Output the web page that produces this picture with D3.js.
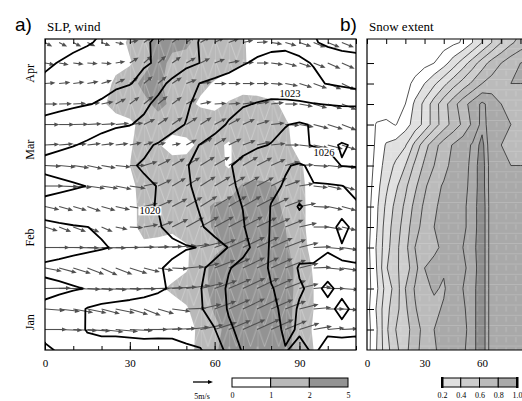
<!DOCTYPE html>
<html>
<head>
<meta charset="utf-8">
<script src="https://cdn.jsdelivr.net/npm/d3@7"></script>
<style>
  body { margin: 0; background: #fff; }
  text { font-family: "Liberation Serif", "DejaVu Serif", serif; fill: #000; }
</style>
</head>
<body>
<svg id="chart" width="522" height="401"></svg>
<script>
// grid steps: longitude (deg) and days
const lonStep = 5, dayStep = 7.25;

const monthLabels = ["Jan", "Feb", "Mar", "Apr"];
const monthDays = [10, 40, 71, 98];
const xTickVals = [0, 30, 60, 90];

// SLP contours (hPa), rows from bottom (day 0) to top
const slpLevels = [1011, 1014, 1017, 1020, 1023, 1026, 1029];
const slp = [
  [1016.5,1017.3,1018.4,1019.2,1019.6,1019.7,1019.7,1019.7,1019.6,1019.5,1019.6,1019.8,1022.3,1023.4,1026.4,1027.6,1028.4,1028.95,1029.2,1028.9,1029.2,1029.3,1029.2],
  [1018.0,1018.6,1019.2,1020.15,1020.2,1020.15,1020.2,1020.25,1020.3,1020.4,1020.9,1021.8,1022.9,1025.5,1026.9,1027.8,1028.5,1029.2,1028.9,1028.7,1028.9,1028.8,1028.9],
  [1017.6,1018.2,1018.8,1020.2,1020.8,1021.0,1021.1,1021.2,1021.4,1021.7,1022.2,1022.8,1024.1,1026.3,1027.2,1027.9,1028.6,1029.4,1028.9,1028.6,1028.8,1029.2,1028.8],
  [1016.3,1016.5,1016.8,1017.1,1017.6,1018.1,1018.6,1019.1,1019.6,1020.3,1021.6,1022.9,1024.4,1026.5,1027.3,1028.0,1028.9,1029.5,1029.1,1028.8,1029.15,1028.8,1028.7],
  [1017.6,1017.9,1018.2,1018.5,1018.8,1019.1,1019.4,1019.6,1019.8,1020.4,1021.6,1022.6,1023.8,1025.8,1027.0,1028.0,1029.3,1029.6,1028.9,1028.9,1028.7,1028.97,1028.9],
  [1015.5,1015.8,1016.2,1016.5,1016.8,1017.2,1018.2,1018.8,1019.2,1019.5,1019.8,1020.1,1021.9,1023.1,1025.0,1027.0,1029.4,1029.6,1029.4,1029.3,1029.1,1029.05,1029.3],
  [1016.6,1016.7,1016.85,1016.98,1017.3,1018.2,1019.0,1019.5,1019.8,1020.6,1021.6,1022.7,1024.0,1025.0,1025.8,1027.4,1029.2,1029.7,1029.5,1029.4,1029.3,1028.8,1029.2],
  [1017.8,1018.2,1018.6,1018.9,1019.2,1019.5,1019.7,1019.85,1020.05,1020.9,1022.0,1023.3,1024.4,1025.3,1026.05,1027.6,1029.1,1029.6,1028.9,1029.4,1029.5,1029.3,1029.2],
  [1016.2,1016.4,1016.7,1017.05,1018.3,1019.0,1019.4,1019.7,1020.05,1021.2,1022.7,1023.6,1024.8,1025.6,1026.4,1027.6,1028.5,1029.2,1029.6,1029.1,1029.2,1029.05,1028.6],
  [1017.6,1018.0,1018.4,1018.8,1019.2,1019.5,1019.8,1020.2,1021.0,1022.0,1022.9,1023.5,1024.6,1025.8,1026.7,1027.5,1028.2,1028.8,1029.3,1028.5,1027.2,1025.9,1025.8],
  [1016.4,1016.6,1016.9,1017.3,1017.8,1018.4,1019.0,1019.6,1020.2,1021.0,1022.2,1023.1,1023.8,1024.5,1025.2,1025.7,1026.1,1026.6,1026.5,1025.8,1025.6,1026.15,1025.8],
  [1014.8,1015.2,1015.6,1016.0,1016.4,1016.7,1016.9,1017.5,1018.3,1019.3,1020.1,1021.2,1022.3,1023.2,1024.0,1024.6,1025.2,1025.9,1026.3,1025.8,1025.2,1024.8,1024.5],
  [1013.0,1013.3,1013.6,1013.9,1014.2,1014.7,1015.5,1016.5,1017.6,1018.8,1019.7,1020.7,1021.5,1022.3,1022.8,1023.1,1023.4,1023.5,1023.4,1023.1,1022.9,1022.8,1022.8],
  [1011.5,1012.0,1012.5,1013.0,1013.4,1013.7,1013.9,1014.6,1016.2,1017.6,1019.0,1020.1,1020.8,1021.3,1021.6,1021.8,1021.7,1021.3,1020.8,1020.4,1019.9,1019.5,1019.0],
  [1010.6,1011.1,1011.5,1012.0,1012.5,1013.0,1013.5,1013.8,1014.2,1015.3,1016.3,1017.05,1017.8,1018.8,1019.8,1020.4,1020.7,1020.6,1020.3,1019.9,1018.5,1018.0,1017.8],
  [1009.5,1010.0,1010.5,1010.8,1011.3,1012.0,1012.8,1013.6,1014.5,1015.5,1016.5,1017.1,1018.0,1018.5,1018.8,1019.0,1019.4,1019.6,1019.4,1017.2,1016.6,1016.3,1016.2]
];
const slpLabels = [
  { text: "1020", lon: 37.1, day: 49.2 },
  { text: "1023", lon: 86.7, day: 90.6 },
  { text: "1026", lon: 98.7, day: 70.0 }
];

// shaded field (classes 0-1, 1-2, 2-5)
const shadeLevels = [1, 2];
const shadeTicks = ["0", "1", "2", "5"];
const shade = [
  [0.5,0.5,0.5,0.5,0.5,0.5,0.5,0.5,0.5,0.5,0.5,1.4,1.9,2.3,2.5,2.5,2.5,2.3,1.7,1.0,0.3,0.3,0.3],
  [0.5,0.5,0.5,0.5,0.5,0.5,0.5,0.5,0.5,0.5,0.5,1.3,1.8,2.2,2.4,2.5,2.5,2.3,1.6,0.9,0.3,0.3,0.3],
  [0.5,0.5,0.5,0.5,0.5,0.5,0.5,0.5,0.5,0.5,0.9,1.5,2.1,2.3,2.5,2.6,2.5,2.3,1.7,1.0,0.3,0.3,0.3],
  [0.5,0.5,0.5,0.5,0.5,0.5,0.5,0.5,0.8,1.2,1.4,1.7,2.3,2.5,2.6,2.6,2.5,2.4,1.7,1.0,0.3,0.3,0.3],
  [0.5,0.5,0.5,0.5,0.5,0.5,0.5,0.5,0.5,0.5,0.9,1.6,2.3,2.6,2.7,2.7,2.6,2.4,1.7,0.9,0.3,0.3,0.3],
  [0.5,0.5,0.5,0.5,0.5,0.5,0.5,0.8,0.7,0.6,0.9,1.4,1.8,2.1,2.2,2.3,2.3,2.2,1.4,0.7,0.3,0.3,0.3],
  [0.5,0.5,0.5,0.5,0.5,0.5,0.7,1.3,1.3,1.2,1.4,1.7,2.1,2.0,2.2,2.3,2.2,2.0,1.3,0.6,0.3,0.3,0.3],
  [0.5,0.5,0.5,0.5,0.5,0.5,0.7,1.3,1.4,1.1,1.5,1.8,2.1,2.2,2.2,2.3,2.2,1.9,1.3,0.6,0.3,0.3,0.3],
  [0.5,0.5,0.5,0.5,0.5,0.5,0.8,1.3,1.5,1.5,1.6,2.0,1.6,1.6,2.1,2.2,2.1,1.8,1.2,0.7,0.3,0.3,0.3],
  [0.5,0.5,0.5,0.5,0.5,0.5,1.0,1.4,1.5,1.5,1.5,1.4,1.3,0.9,1.4,1.5,1.5,1.4,1.1,0.7,0.3,0.3,0.3],
  [0.5,0.5,0.5,0.5,0.5,0.5,0.9,1.4,1.1,0.5,0.6,1.3,1.2,0.9,1.4,1.5,1.4,1.2,0.7,0.3,0.3,0.3,0.3],
  [0.5,0.5,0.5,0.5,0.5,0.5,0.8,1.3,1.5,1.5,1.7,2.0,1.6,1.5,1.6,1.5,1.4,1.1,0.7,0.4,0.3,0.3,0.3],
  [0.5,0.5,0.5,0.5,0.8,1.4,1.5,1.7,2.3,1.8,1.4,0.8,0.7,1.1,1.5,1.4,1.2,0.8,0.4,0.3,0.3,0.3,0.3],
  [0.5,0.5,0.5,0.5,0.5,1.2,1.6,2.3,2.2,1.6,1.5,1.3,0.9,0.4,0.4,0.4,0.3,0.3,0.3,0.3,0.3,0.3,0.3],
  [0.5,0.5,0.5,0.5,0.5,0.7,0.9,1.6,2.3,1.8,1.6,1.7,1.6,1.4,1.1,0.7,0.3,0.3,0.3,0.3,0.3,0.3,0.3],
  [0.5,0.5,0.5,0.5,0.5,0.5,1.2,1.8,2.3,2.2,2.2,1.6,1.5,1.4,1.1,0.6,0.3,0.3,0.3,0.3,0.3,0.3,0.3]
];

// wind (m/s), rows start at day 7.25, columns lon 0..105
const windU = [
  [5.5,5.8,6.0,5.8,5.5,5.6,5.8,6.0,6.2,6.0,5.8,5.8,5.6,5.5,5.6,5.8,5.6,5.4,5.0,4.6,4.2,4.0],
  [5.0,5.2,5.0,4.8,4.6,4.8,4.6,4.2,4.0,4.6,5.0,5.2,5.4,5.4,5.5,5.6,5.5,5.2,4.8,4.4,4.2,4.0],
  [6.5,6.6,6.8,6.6,6.4,6.5,6.6,6.5,6.4,6.2,6.0,5.8,5.6,5.6,5.6,5.5,5.4,5.2,4.8,4.5,4.3,4.2],
  [4.2,4.4,4.4,4.2,4.0,4.2,4.4,4.0,3.8,4.0,4.4,4.8,5.2,5.4,5.5,5.5,5.4,5.2,4.8,4.4,4.2,4.0],
  [6.2,6.4,6.5,6.4,6.2,6.0,6.2,6.4,6.2,6.0,5.8,5.6,5.4,5.4,5.5,5.5,5.4,5.2,4.8,4.4,4.2,4.0],
  [3.2,3.0,3.2,3.0,2.8,3.0,3.4,3.6,3.8,4.0,4.4,4.6,4.8,5.0,5.0,5.0,4.8,4.6,4.4,4.0,3.8,3.6],
  [3.6,3.5,3.4,3.4,3.5,3.6,3.6,3.5,3.6,3.8,4.0,4.2,4.4,4.5,4.6,4.6,4.5,4.4,4.2,4.0,3.8,3.6],
  [4.6,4.8,4.6,4.4,4.2,4.0,4.0,3.6,3.4,3.4,3.6,3.8,4.0,4.2,4.2,4.2,4.0,3.8,3.6,3.6,3.6,3.4],
  [4.0,4.2,4.0,3.8,3.6,3.8,4.0,3.4,3.2,3.2,3.4,3.6,3.8,3.8,3.8,3.8,3.6,3.6,3.6,3.8,3.8,3.6],
  [3.6,3.6,3.4,3.4,3.2,3.2,3.0,2.4,2.0,2.2,2.6,3.0,3.0,3.2,3.2,3.4,3.6,3.6,3.6,3.8,3.8,3.6],
  [3.6,3.8,3.8,3.6,3.6,3.4,3.4,2.8,2.6,2.6,2.8,2.8,3.0,3.0,3.0,3.2,3.4,3.6,3.6,3.8,3.8,3.6],
  [3.2,3.2,3.2,3.2,3.0,2.6,2.4,2.4,2.4,2.4,2.6,2.8,3.0,3.0,3.0,3.2,3.2,3.2,3.4,3.4,3.6,3.6],
  [2.6,2.8,2.8,2.8,2.6,2.4,2.2,2.2,2.2,2.4,2.6,2.8,3.0,3.0,3.0,3.0,3.0,3.2,3.2,3.4,3.4,3.4],
  [2.4,2.4,2.6,2.6,2.6,2.4,2.2,2.0,2.0,2.2,2.4,2.4,2.6,2.8,2.8,3.0,3.0,3.0,3.0,3.0,3.2,3.2],
  [1.8,2.0,2.0,2.0,2.2,2.2,2.2,2.0,2.0,2.2,2.2,2.4,2.4,2.6,2.6,2.8,2.8,2.8,3.0,3.0,3.0,3.0]
];
const windV = [
  [0.0,-0.2,-0.3,-0.4,-0.6,-0.5,-0.3,0.0,0.2,0.3,0.6,1.2,1.8,2.3,2.5,2.6,2.5,2.2,1.6,0.8,0.4,0.2],
  [-0.4,-0.6,-0.9,-1.0,-1.2,-1.0,-1.4,-1.6,-1.2,-0.6,0.2,1.2,2.0,2.4,2.6,2.6,2.4,2.0,1.2,0.4,0.0,-0.2],
  [0.1,0.0,-0.2,-0.3,-0.3,-0.2,-0.1,0.0,0.2,0.4,0.8,1.4,2.0,2.4,2.6,2.6,2.4,2.0,1.2,0.4,0.0,-0.3],
  [-0.8,-1.2,-1.4,-1.6,-1.8,-1.6,-1.4,-1.0,-0.6,-0.2,0.4,1.2,2.0,2.4,2.6,2.6,2.4,2.0,1.2,0.2,-0.4,-0.6],
  [0.0,0.0,-0.1,-0.2,-0.1,0.0,0.1,0.2,0.3,0.5,0.8,1.4,2.0,2.4,2.6,2.6,2.4,2.0,1.2,0.2,-0.4,-0.6],
  [-1.0,-1.2,-1.2,-1.3,-1.2,-0.6,-0.2,0.6,1.4,2.0,2.4,2.6,2.6,2.6,2.6,2.4,2.2,1.8,1.0,0.0,-0.6,-0.8],
  [-0.8,-1.0,-1.0,-1.2,-1.0,-0.8,-0.6,0.8,1.6,2.0,2.4,2.6,2.6,2.6,2.6,2.4,2.2,1.6,0.8,-0.2,-0.8,-1.0],
  [0.0,-0.2,-0.4,-0.6,-0.6,-0.8,-0.6,0.8,1.6,2.0,2.2,2.4,2.4,2.4,2.4,2.2,2.0,1.4,0.6,-0.4,-0.8,-1.0],
  [-0.2,-0.4,-0.6,-0.8,-0.6,-0.4,0.0,1.0,1.6,1.8,2.0,2.2,2.2,2.2,2.2,2.0,1.6,1.0,0.2,-0.2,-0.4,-0.6],
  [0.2,0.3,0.3,0.4,0.4,0.4,0.6,0.8,0.6,0.4,1.4,1.8,1.8,1.6,1.2,0.8,0.4,0.0,-0.4,-0.8,-1.0,-1.2],
  [0.0,0.0,0.1,0.2,0.2,0.3,0.4,1.4,1.8,1.8,1.8,1.8,1.6,1.6,1.4,1.0,0.4,-0.2,-0.6,-1.0,-1.2,-1.4],
  [0.0,0.1,0.2,0.3,0.6,1.4,1.8,2.0,2.0,1.8,1.4,0.6,0.2,0.2,0.4,0.6,0.4,0.0,-0.6,-1.0,-1.2,-1.4],
  [0.2,0.3,0.4,0.5,0.8,1.2,1.6,1.8,1.8,1.6,1.0,0.4,0.0,0.0,0.0,0.0,-0.2,-0.6,-1.0,-1.2,-1.4,-1.6],
  [-0.4,-0.4,-0.3,-0.2,-0.2,0.4,1.4,1.8,1.8,1.6,1.4,1.2,1.0,0.6,0.2,0.0,-0.4,-0.8,-1.0,-1.2,-1.4,-1.4],
  [-1.0,-1.0,-1.0,-0.9,-0.8,-0.4,0.6,1.4,1.6,1.6,1.6,1.4,1.2,1.0,0.6,0.2,-0.4,-0.8,-1.0,-1.2,-1.2,-1.2]
];
const refWind = 5;

// snow extent fraction, rows from bottom, columns lon 0..85
const snowFill = [0.2, 0.4, 0.6, 0.8, 0.95];
const snowLines = [0.1, 0.2, 0.3, 0.4, 0.5, 0.6, 0.7, 0.8, 0.9, 0.95];
const snowTicks = ["0.2", "0.4", "0.6", "0.8", "1.0"];
const snow = [
  [0.05,0.2,0.36,0.47,0.57,0.67,0.74,0.79,0.83,0.86,0.89,0.93,0.99,0.86,0.83,0.82,0.82,0.82],
  [0.05,0.19,0.38,0.5,0.55,0.66,0.73,0.8,0.84,0.85,0.88,0.93,0.99,0.86,0.83,0.82,0.82,0.82],
  [0.06,0.21,0.37,0.46,0.58,0.69,0.76,0.78,0.81,0.86,0.89,0.93,0.99,0.86,0.83,0.82,0.82,0.82],
  [0.05,0.18,0.34,0.44,0.6,0.71,0.78,0.81,0.79,0.85,0.9,0.93,0.99,0.86,0.83,0.82,0.82,0.82],
  [0.05,0.2,0.39,0.48,0.55,0.66,0.8,0.83,0.81,0.84,0.89,0.92,0.99,0.86,0.83,0.82,0.82,0.82],
  [0.06,0.21,0.36,0.47,0.57,0.7,0.75,0.78,0.82,0.86,0.9,0.93,0.99,0.86,0.83,0.82,0.82,0.82],
  [0.05,0.19,0.35,0.45,0.55,0.66,0.74,0.8,0.84,0.87,0.89,0.92,0.99,0.86,0.83,0.82,0.82,0.82],
  [0.05,0.18,0.32,0.43,0.52,0.63,0.72,0.79,0.82,0.85,0.89,0.92,0.99,0.86,0.83,0.82,0.82,0.82],
  [0.04,0.16,0.28,0.38,0.48,0.58,0.68,0.77,0.81,0.85,0.88,0.92,0.98,0.86,0.82,0.81,0.81,0.81],
  [0.03,0.14,0.24,0.32,0.4,0.52,0.62,0.7,0.77,0.83,0.87,0.92,0.98,0.86,0.82,0.8,0.8,0.8],
  [0.03,0.12,0.21,0.24,0.29,0.43,0.56,0.66,0.75,0.81,0.86,0.91,0.97,0.85,0.8,0.78,0.78,0.78],
  [0.02,0.11,0.12,0.095,0.16,0.24,0.33,0.45,0.55,0.64,0.72,0.82,0.93,0.86,0.82,0.8,0.78,0.77],
  [0,0.02,0.04,0.07,0.1,0.22,0.33,0.45,0.56,0.66,0.76,0.84,0.92,0.86,0.8,0.78,0.76,0.75],
  [0,0,0.01,0.03,0.06,0.13,0.2,0.28,0.37,0.46,0.54,0.62,0.7,0.74,0.78,0.8,0.8,0.8],
  [0,0,0,0.01,0.02,0.04,0.07,0.1,0.16,0.25,0.35,0.45,0.55,0.64,0.7,0.76,0.8,0.82],
  [0,0,0,0,0,0.01,0.02,0.04,0.06,0.08,0.11,0.2,0.3,0.4,0.5,0.58,0.64,0.68]
];

const shadeColors = ["#b9b9b9", "#939393"];
const snowColors = ["#e0e0e0", "#cdcdcd", "#bbbbbb", "#a9a9a9", "#8e8e8e"];

const svg = d3.select("#chart");
const xA = d3.scaleLinear().domain([0, 110]).range([45, 356]);
const yA = d3.scaleLinear().domain([0, 110]).range([350, 39]);
const xB = d3.scaleLinear().domain([0, 110]).range([367, 578]);
const speed = d3.scaleLinear().domain([0, refWind]).range([0, 20]);

const defs = svg.append("defs");
defs.append("clipPath").attr("id", "clipA").append("rect")
  .attr("x", 45).attr("y", 39).attr("width", 311).attr("height", 311);
defs.append("clipPath").attr("id", "clipB").append("rect")
  .attr("x", 367).attr("y", 39).attr("width", 200).attr("height", 311);

// faint texture seen inside the shaded areas
const pat = defs.append("pattern").attr("id", "texA").attr("patternUnits", "userSpaceOnUse")
  .attr("x", 45).attr("y", 39).attr("width", 14.17).attr("height", 20.5);
pat.append("path").attr("d", "M0,0V20.5M0,0L7.08,20.5L14.17,0")
  .attr("stroke", "#fff").attr("stroke-opacity", 0.45).attr("stroke-width", 0.6).attr("fill", "none");
const patB = defs.append("pattern").attr("id", "texB").attr("patternUnits", "userSpaceOnUse")
  .attr("x", 367).attr("y", 39).attr("width", 9.6).attr("height", 10.25);
patB.append("path").attr("d", "M4.8,1V6M0,10H9.6")
  .attr("stroke", "#fff").attr("stroke-opacity", 0.35).attr("stroke-width", 0.6).attr("fill", "none");

function gridPath(xs) {
  return d3.geoPath(d3.geoTransform({
    point(x, y) { this.stream.point(xs((x - 0.5) * lonStep), yA((y - 0.5) * dayStep)); }
  }));
}

// ---------- panel a ----------
const gA = svg.append("g").attr("clip-path", "url(#clipA)");
const pathA = gridPath(xA);
const nxA = slp[0].length, nyA = slp.length;

const shadeC = d3.contours().size([nxA, nyA]).thresholds(shadeLevels)(shade.flat());
gA.selectAll("path.shade").data(shadeC).join("path")
  .attr("class", "shade").attr("d", pathA).attr("fill", (d, i) => shadeColors[i]);
gA.append("path").attr("d", pathA(shadeC[0])).attr("fill", "url(#texA)");

// wind arrows
function arrow(g, x0, y0, x1, y1, color, w) {
  const a = Math.atan2(y1 - y0, x1 - x0), L = 5, H = 2.1;
  const bx = x1 - L * Math.cos(a), by = y1 - L * Math.sin(a);
  g.append("line").attr("x1", x0).attr("y1", y0).attr("x2", bx + 1.5 * Math.cos(a)).attr("y2", by + 1.5 * Math.sin(a))
    .attr("stroke", color).attr("stroke-width", w);
  g.append("path")
    .attr("d", `M${x1},${y1}L${bx - H * Math.sin(a)},${by + H * Math.cos(a)}L${bx + H * Math.sin(a)},${by - H * Math.cos(a)}Z`)
    .attr("fill", color);
}
const gW = gA.append("g");
windU.forEach((row, r) => {
  row.forEach((u, i) => {
    const v = windV[r][i];
    const x0 = xA(i * lonStep), y0 = yA((r + 1) * dayStep);
    arrow(gW, x0, y0, x0 + speed(u), y0 - speed(v), "#505050", 1.1);
  });
});

const slpC = d3.contours().size([nxA, nyA]).thresholds(slpLevels)(slp.flat());
gA.selectAll("path.slp").data(slpC).join("path")
  .attr("class", "slp").attr("d", pathA).attr("fill", "none")
  .attr("stroke", "#000").attr("stroke-width", 1.8).attr("stroke-linejoin", "round");

slpLabels.forEach(l => {
  const t = gA.append("text").attr("x", xA(l.lon)).attr("y", yA(l.day) + 3.5)
    .attr("text-anchor", "middle").style("font-size", "10.5px").text(l.text);
  const b = t.node().getBBox();
  gA.insert("rect", () => t.node()).attr("x", b.x - 1).attr("y", b.y + 1)
    .attr("width", b.width + 2).attr("height", b.height - 2).attr("fill", "#fff");
});

svg.append("rect").attr("x", 45).attr("y", 39).attr("width", 311).attr("height", 311)
  .attr("fill", "none").attr("stroke", "#000").attr("stroke-width", 1.2);

// axes panel a
const minorX = d3.range(0, 111, 10);
svg.append("g").attr("transform", "translate(0,350)")
  .call(d3.axisBottom(xA).tickValues(minorX).tickSize(-4).tickFormat(""))
  .call(g => g.select(".domain").remove());
svg.append("g").attr("transform", "translate(0,350)")
  .call(d3.axisBottom(xA).tickValues(xTickVals).tickSize(-8).tickPadding(9))
  .call(g => g.select(".domain").remove())
  .call(g => g.selectAll("text").style("font-size", "11px").attr("font-family", null));
svg.append("g").attr("transform", "translate(0,39)")
  .call(d3.axisTop(xA).tickValues(minorX).tickSize(-5).tickFormat(""))
  .call(g => g.select(".domain").remove());
svg.append("g").attr("transform", "translate(45,0)")
  .call(d3.axisLeft(yA).tickValues(monthDays).tickSize(0).tickFormat((d, i) => monthLabels[i]))
  .call(g => g.select(".domain").remove())
  .call(g => g.selectAll("text").attr("x", 0).attr("y", -11).attr("dy", 0)
    .attr("transform", "rotate(-90)").style("text-anchor", "middle").style("font-size", "12px")
    .attr("font-family", null));

// ---------- panel b ----------
const gB = svg.append("g").attr("clip-path", "url(#clipB)");
const pathB = gridPath(xB);
const nxB = snow[0].length, nyB = snow.length;
const snowC = d3.contours().size([nxB, nyB]).thresholds(snowFill)(snow.flat());
gB.selectAll("path.snow").data(snowC).join("path")
  .attr("class", "snow").attr("d", pathB).attr("fill", (d, i) => snowColors[i]);
gB.append("path").attr("d", pathB(snowC[0])).attr("fill", "url(#texB)");
const snowL = d3.contours().size([nxB, nyB]).thresholds(snowLines)(snow.flat());
gB.selectAll("path.snowl").data(snowL).join("path")
  .attr("class", "snowl").attr("d", pathB).attr("fill", "none")
  .attr("stroke", "#333").attr("stroke-width", 0.85).attr("stroke-linejoin", "round");

svg.append("path").attr("d", "M530,39H367V350H530").attr("fill", "none")
  .attr("stroke", "#000").attr("stroke-width", 1.2);
svg.append("g").attr("transform", "translate(0,350)")
  .call(d3.axisBottom(xB).tickValues(xTickVals.slice(0, 3)).tickSize(0).tickPadding(9))
  .call(g => g.select(".domain").remove())
  .call(g => g.selectAll("text").style("font-size", "11px").attr("font-family", null));
svg.append("g").attr("transform", "translate(0,39)")
  .call(d3.axisTop(xB).tickValues(d3.range(0, 81, 10)).tickSize(-5).tickFormat(""))
  .call(g => g.select(".domain").remove());
svg.append("g").attr("transform", "translate(367,0)")
  .call(d3.axisLeft(yA).tickValues(d3.range(1, 15).map(k => k * dayStep)).tickSize(-7).tickFormat(""))
  .call(g => g.select(".domain").remove());

// ---------- titles ----------
svg.append("text").attr("x", 15).attr("y", 31).style("font-family", "'Liberation Sans', Arial, sans-serif")
  .style("font-size", "19px").text("a)");
svg.append("text").attr("x", 47).attr("y", 31).style("font-size", "13px").text("SLP, wind");
svg.append("text").attr("x", 340).attr("y", 31).style("font-family", "'Liberation Sans', Arial, sans-serif")
  .style("font-size", "19px").text("b)");
svg.append("text").attr("x", 369).attr("y", 31).style("font-size", "13px").text("Snow extent");

// ---------- legends ----------
const gL = svg.append("g");
arrow(gL, 193, 382, 193 + speed(refWind), 382, "#000", 1.3);
gL.append("text").attr("x", 202).attr("y", 399).attr("text-anchor", "middle")
  .style("font-size", "8px").text(refWind + "m/s");

const cbA = d3.scaleLinear().domain([0, 3]).range([232, 348]);
const cbAColors = ["#ffffff"].concat(shadeColors);
gL.selectAll("rect.cba").data(cbAColors).join("rect").attr("class", "cba")
  .attr("x", (d, i) => cbA(i)).attr("y", 378).attr("width", (d, i) => cbA(i + 1) - cbA(i)).attr("height", 9)
  .attr("fill", d => d).attr("stroke", "#000").attr("stroke-width", 1);
gL.append("g").attr("transform", "translate(0,388)")
  .call(d3.axisBottom(cbA).tickValues([0, 1, 2, 3]).tickSize(0).tickPadding(4).tickFormat((d, i) => shadeTicks[i]))
  .call(g => g.select(".domain").remove())
  .call(g => g.selectAll("text").style("font-size", "8px").attr("font-family", null));

const cbB = d3.scaleLinear().domain([0, 4]).range([442, 517]);
gL.selectAll("rect.cbb").data(snowColors.slice(0, 4)).join("rect").attr("class", "cbb")
  .attr("x", (d, i) => cbB(i)).attr("y", 378).attr("width", (d, i) => cbB(i + 1) - cbB(i)).attr("height", 9)
  .attr("fill", d => d).attr("stroke", "#000").attr("stroke-width", 1);
gL.append("rect").attr("x", cbB(0) - 1).attr("y", 377).attr("width", 2.5).attr("height", 11).attr("fill", "#000");
gL.append("rect").attr("x", cbB(4) - 1).attr("y", 377).attr("width", 2.5).attr("height", 11).attr("fill", "#000");
gL.append("g").attr("transform", "translate(0,388)")
  .call(d3.axisBottom(cbB).tickValues([0, 1, 2, 3, 4]).tickSize(0).tickPadding(4).tickFormat((d, i) => snowTicks[i]))
  .call(g => g.select(".domain").remove())
  .call(g => g.selectAll("text").style("font-size", "8px").attr("font-family", null));
</script>
</body>
</html>
